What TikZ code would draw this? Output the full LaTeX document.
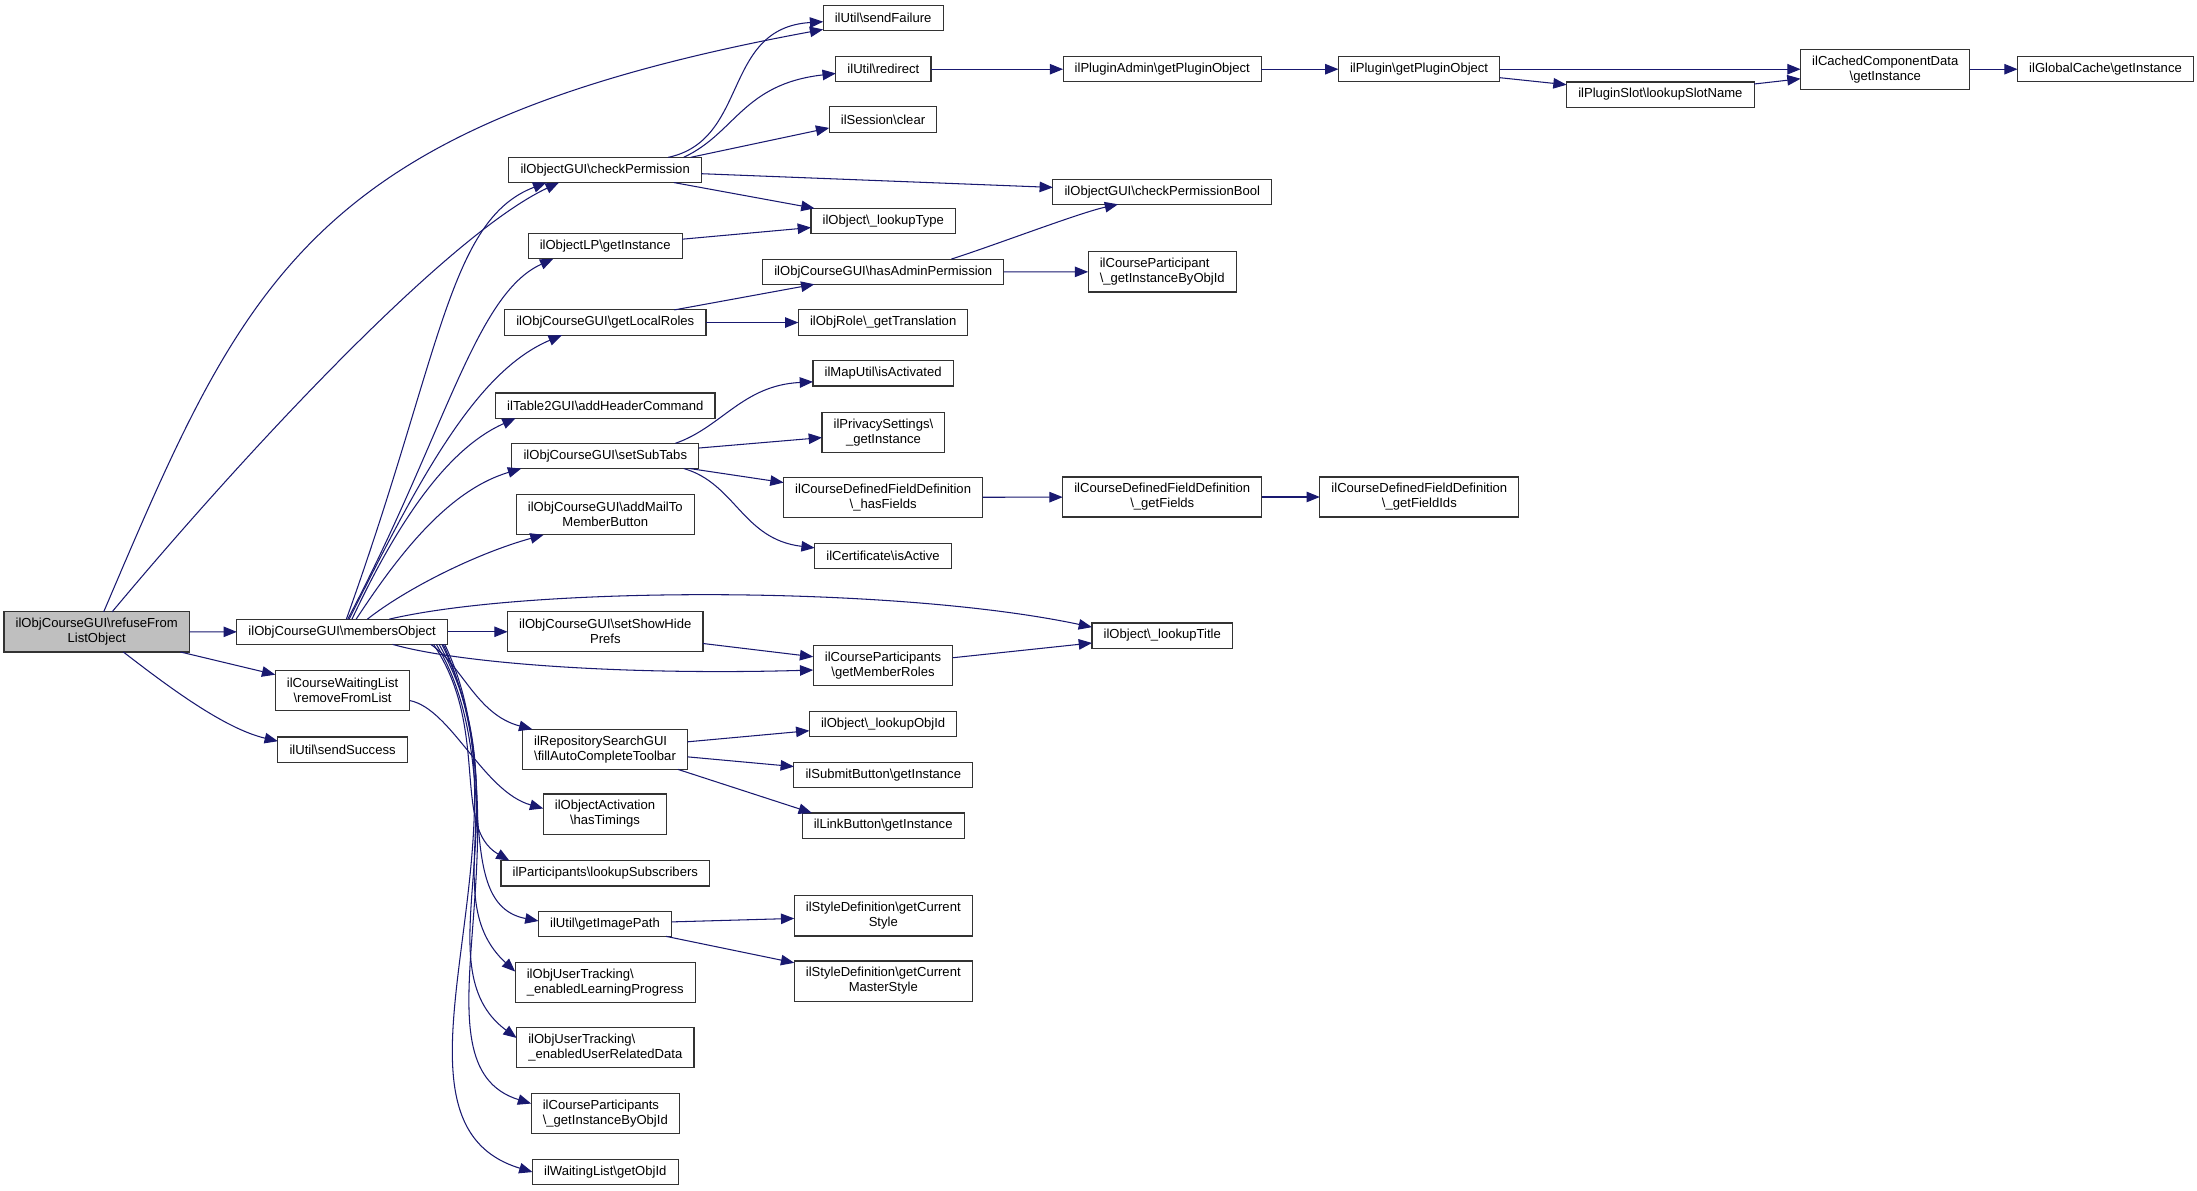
\documentclass[tikz,border=0pt]{standalone}
\usepackage{fontspec}
\setmainfont{Liberation Sans}
\usetikzlibrary{arrows.meta}
\definecolor{callblue}{RGB}{25,25,112}
\def\bsl{\textbackslash}
\tikzstyle{fn}=[draw=black!80, fill=white, line width=0.8pt, inner xsep=8.3pt, inner ysep=4.5pt, minimum height=18pt, outer sep=0pt, font=\fontsize{9.33}{10.7}\selectfont]
\tikzstyle{fn2}=[fn, align=center, minimum height=28.6pt]
\tikzstyle{fn2 left}=[fn, align=left, minimum height=28.6pt]
\tikzstyle{root fn}=[fill=black!25]
\tikzstyle{call edge}=[draw, line width=0.75pt, callblue, -{Triangle[length=9.5pt,width=7.5pt]}]

\begin{document}
\begin{tikzpicture}[x=1pt, y=-1pt]
  \path[use as bounding box, fill=white] (0,0) rectangle (1568,850);

  % The function whose graph this is, and the two line boxes
  \node[fn2, root fn] (refuse) at (69,451) {ilObjCourseGUI\bsl refuseFrom\\ListObject};
  \node[fn2] (waitList) at (244.5,493) {ilCourseWaitingList\\\bsl removeFromList};
  \node[fn2] (addMail) at (432,367.4) {ilObjCourseGUI\bsl addMailTo\\MemberButton};
  \node[fn2] (showHide) at (432,450.9) {ilObjCourseGUI\bsl setShowHide\\Prefs};
  \node[fn2 left] (repoSearch) at (431.8,534.8) {ilRepositorySearchGUI\\\bsl fillAutoCompleteToolbar};
  \node[fn2] (activation) at (431.8,581) {ilObjectActivation\\\bsl hasTimings};
  \node[fn2 left] (learnProg) at (432,701.4) {ilObjUserTracking\bsl\\\_enabledLearningProgress};
  \node[fn2 left] (userRel) at (432,747.8) {ilObjUserTracking\bsl\\\_enabledUserRelatedData};
  \node[fn2 left] (cpInst) at (432,794.6) {ilCourseParticipants\\\bsl\_getInstanceByObjId};
  \node[fn2] (privacy) at (630.5,308.6) {ilPrivacySettings\bsl\\\_getInstance};
  \node[fn2] (hasFields) at (630.3,355) {ilCourseDefinedFieldDefinition\\\bsl\_hasFields};
  \node[fn2] (memberRoles) at (630.2,474.7) {ilCourseParticipants\\\bsl getMemberRoles};
  \node[fn2] (styleCur) at (630.4,653.7) {ilStyleDefinition\bsl getCurrent\\Style};
  \node[fn2] (styleMaster) at (630.4,700.2) {ilStyleDefinition\bsl getCurrent\\MasterStyle};
  \node[fn2 left] (cpInstAdmin) at (829.5,194.1) {ilCourseParticipant\\\bsl\_getInstanceByObjId};
  \node[fn2] (getFields) at (829.5,354.7) {ilCourseDefinedFieldDefinition\\\bsl\_getFields};
  \node[fn2] (fieldIds) at (1013,354.7) {ilCourseDefinedFieldDefinition\\\bsl\_getFieldIds};
  \node[fn2] (cached) at (1345.5,49.4) {ilCachedComponentData\\\bsl getInstance};

  % Then the one line boxes
  \foreach \pos/\name/\txt in {{(244.2,450.9)/members/ilObjCourseGUI\bsl membersObject},
    {(244.5,535)/sendSuccess/ilUtil\bsl sendSuccess},
    {(431.9,121.3)/checkPerm/ilObjectGUI\bsl checkPermission},
    {(431.9,175.7)/objLP/ilObjectLP\bsl getInstance},
    {(432,230.2)/localRoles/ilObjCourseGUI\bsl getLocalRoles},
    {(432,289.5)/table2/ilTable2GUI\bsl addHeaderCommand},
    {(432,325.4)/subTabs/ilObjCourseGUI\bsl setSubTabs},
    {(432,623.3)/subscribers/ilParticipants\bsl lookupSubscribers},
    {(431.8,659.3)/imagePath/ilUtil\bsl getImagePath},
    {(432,836.5)/waitObjId/ilWaitingList\bsl getObjId},
    {(630.3,13)/sendFailure/ilUtil\bsl sendFailure},
    {(630.5,49.4)/redirect/ilUtil\bsl redirect},
    {(630.2,85.3)/sessClear/ilSession\bsl clear},
    {(630.4,157.7)/lookupType/ilObject\bsl\_lookupType},
    {(630.4,193.9)/adminPerm/ilObjCourseGUI\bsl hasAdminPermission},
    {(630.3,230.2)/getTrans/ilObjRole\bsl\_getTranslation},
    {(630.3,266.5)/mapUtil/ilMapUtil\bsl isActivated},
    {(630.2,397)/certif/ilCertificate\bsl isActive},
    {(630.3,516.7)/lookupObjId/ilObject\bsl\_lookupObjId},
    {(630.4,552.9)/submitBtn/ilSubmitButton\bsl getInstance},
    {(630.3,589.2)/linkBtn/ilLinkButton\bsl getInstance},
    {(829.5,49.4)/pluginAdmin/ilPluginAdmin\bsl getPluginObject},
    {(829.5,136.8)/permBool/ilObjectGUI\bsl checkPermissionBool},
    {(829.5,453.6)/lookupTitle/ilObject\bsl\_lookupTitle},
    {(1012.8,49.4)/plugin/ilPlugin\bsl getPluginObject},
    {(1185,67.5)/slotName/ilPluginSlot\bsl lookupSlotName},
    {(1502.7,49.4)/globalCache/ilGlobalCache\bsl getInstance}}
    \node[fn] (\name) at \pos {\txt};

  % Straight calls
  \foreach \source/ \dest in {refuse/members, refuse/waitList, members/showHide,
      checkPerm/permBool, checkPerm/lookupType, objLP/lookupType,
      localRoles/adminPerm, localRoles/getTrans, adminPerm/cpInstAdmin,
      subTabs/privacy, subTabs/hasFields, hasFields/getFields, getFields/fieldIds,
      showHide/memberRoles, memberRoles/lookupTitle, repoSearch/lookupObjId,
      repoSearch/submitBtn, imagePath/styleCur, imagePath/styleMaster,
      redirect/pluginAdmin, pluginAdmin/plugin, plugin/cached, plugin/slotName,
      slotName/cached, cached/globalCache}
    \path[call edge] (\source) -- (\dest);

  % Curved calls of refuseFromListObject
  \path[call edge] ([xshift=5pt]refuse.north) .. controls (175,200) and (219,89) .. ([yshift=1pt]sendFailure.south west);
  \path[call edge] ([xshift=11pt]refuse.north) .. controls (175,323) and (319,168) .. ([xshift=-33pt]checkPerm.south);
  \path[call edge] ([xshift=19pt]refuse.south) .. controls (120,490) and (160,520) .. ([yshift=6pt]sendSuccess.west);

  % membersObject, upwards
  \path[call edge] ([xshift=3pt]members.north) .. controls (315,253) and (320,157) .. ([xshift=-42pt]checkPerm.south);
  \path[call edge] ([xshift=4pt]members.north) .. controls (318,309) and (339,210) .. ([xshift=-37pt]objLP.south);
  \path[call edge] ([xshift=5pt]members.north) .. controls (300,340) and (340,265) .. ([xshift=-31pt]localRoles.south);
  \path[call edge] ([xshift=7pt]members.north) .. controls (285,370) and (320,320) .. ([xshift=-64pt]table2.south);
  \path[call edge] ([xshift=10pt]members.north) .. controls (285,395) and (320,350) .. ([xshift=-60pt]subTabs.south);
  \path[call edge] ([xshift=18pt]members.north) .. controls (290,420) and (340,395) .. ([xshift=-44pt]addMail.south);
  \path[call edge] ([xshift=33.6pt]members.north) .. controls (380,418) and (640,418) .. ([yshift=-3pt]lookupTitle.north west);
  \path[call edge] ([xshift=36pt]members.south) .. controls (330,474) and (450,482) .. ([yshift=-3.5pt]memberRoles.west);

  % membersObject, downwards
  \path[call edge] ([xshift=-12pt]members.south east) .. controls (330,475) and (340,510) .. ([xshift=7pt]repoSearch.north west);
  \path[call edge] ([xshift=-10pt]members.south east) .. controls (350,520) and (322,590) .. ([xshift=6pt]subscribers.north west);
  \path[call edge] ([xshift=-8pt]members.south east) .. controls (360,540) and (320,645) .. ([yshift=2pt]imagePath.west);
  \path[call edge] ([xshift=-6pt]members.south east) .. controls (370,560) and (310,640) .. ([yshift=8pt]learnProg.west);
  \path[call edge] ([xshift=-4pt]members.south east) .. controls (375,580) and (300,690) .. ([yshift=7pt]userRel.west);
  \path[call edge] ([xshift=-3pt]members.south east) .. controls (380,600) and (290,760) .. ([yshift=7pt]cpInst.west);
  \path[call edge] ([xshift=-2pt]members.south east) .. controls (385,600) and (260,800) .. (waitObjId.west);
  \path[call edge] ([yshift=-7pt]waitList.east) .. controls (322,506) and (345,565) .. ([yshift=4pt]activation.west);

  % Third rank
  \path[call edge] ([xshift=45pt]checkPerm.north) .. controls (535,100) and (515,20) .. ([yshift=-2.5pt]sendFailure.west);
  \path[call edge] ([xshift=56pt]checkPerm.north) .. controls (525,95) and (530,60) .. ([yshift=-3pt]redirect.west);
  \path[call edge] ([xshift=61pt]checkPerm.north) -- ([yshift=-6pt]sessClear.west);
  \path[call edge] ([xshift=48.6pt]adminPerm.north) .. controls (710,175) and (770,152) .. ([xshift=-31.5pt]permBool.south);
  \path[call edge] ([xshift=50pt]subTabs.north) .. controls (515,305) and (530,275) .. ([yshift=-6pt]mapUtil.west);
  \path[call edge] ([xshift=56pt]subTabs.south) .. controls (525,345) and (530,385) .. ([yshift=6pt]certif.west);
  \path[call edge] ([xshift=52pt]repoSearch.south) -- ([xshift=7pt]linkBtn.north west);
\end{tikzpicture}
\end{document}
